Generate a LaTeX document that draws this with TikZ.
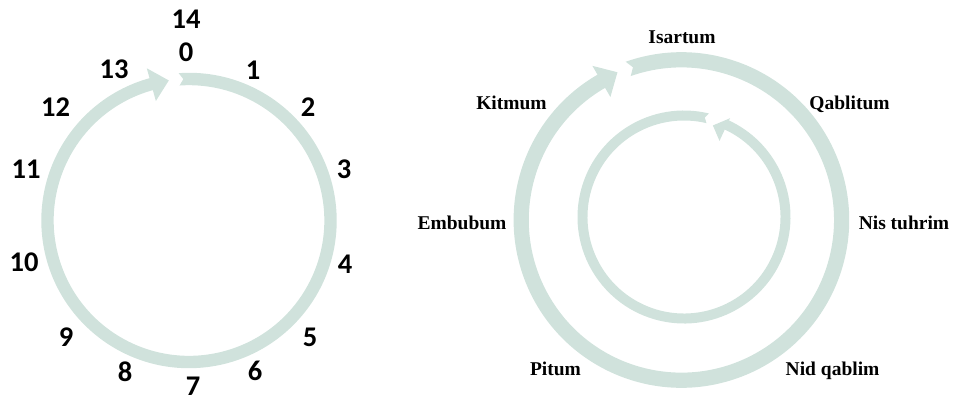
\documentclass[tikz,border=0pt]{standalone}
\usepackage{fontspec}
\newfontfamily\numfont{Carlito}
\newfontfamily\labfont{Liberation Serif}
\definecolor{ringc}{RGB}{208,226,220}
\begin{document}
\begin{tikzpicture}[x=1pt,y=1pt,
  num/.style={font=\numfont\bfseries\fontsize{28.5}{30}\selectfont, inner sep=0pt, anchor=center},
  lab/.style={font=\labfont\bfseries\fontsize{19.5}{21}\selectfont, inner sep=0pt, anchor=base},
  ring/.style={fill=ringc, draw=none}]
\useasboundingbox (0,0) rectangle (953,-402);

% left ring (clockwise)
\begin{scope}[shift={(189,-220.5)}]
\fill[ring] (94:147.7) arc[start angle=94, end angle=-254.5, radius=147.7]
  -- (-254.5:158) -- (-261.8:141.5) -- (-254.5:124) -- (-254.5:135.3)
  arc[start angle=-254.5, end angle=94, radius=135.3] -- (92.3:141.5) -- cycle;
\end{scope}

% right outer ring (clockwise)
\begin{scope}[shift={(681.4,-220)}]
\fill[ring] (109.4:167.8) arc[start angle=109.4, end angle=-240, radius=167.8]
  -- (-240:178) -- (-246.6:161) -- (-240:142) -- (-240:152.6)
  arc[start angle=-240, end angle=109.4, radius=152.6] -- (107.6:160.2) -- cycle;
\end{scope}

% right inner ring (counterclockwise)
\begin{scope}[shift={(684,-217)}]
\fill[ring] (76.5:106.5) arc[start angle=76.5, end angle=425, radius=106.5]
  -- (425:109) -- (432.5:96) -- (425:84) -- (425:96.5)
  arc[start angle=425, end angle=76.5, radius=96.5] -- (78.2:101.5) -- cycle;
\end{scope}

% numbers
\node[num] (n14) at (186,-19) {14};
\node[num] (n0) at (186,-52) {0};
\node[num] (n1) at (253,-70) {1};
\node[num] (n2) at (308,-107.5) {2};
\node[num] (n3) at (344,-169) {3};
\node[num] (n4) at (345,-264) {4};
\node[num] (n5) at (310,-337) {5};
\node[num] (n6) at (255,-371) {6};
\node[num] (n7) at (193,-386) {7};
\node[num] (n8) at (125,-372) {8};
\node[num] (n9) at (66,-337) {9};
\node[num] (n10) at (24,-262) {10};
\node[num] (n11) at (26,-169) {11};
\node[num] (n12) at (55.5,-107.5) {12};
\node[num] (n13) at (114,-69) {13};

% labels
\node[lab] (isartum) at (682,-43.3) {Isartum};
\node[lab] (qablitum) at (849.5,-109.5) {Qablitum};
\node[lab] (nis) at (904,-229.5) {Nis tuhrim};
\node[lab] (embubum) at (462,-229.3) {Embubum};
\node[lab] (kitmum) at (511.5,-109.3) {Kitmum};
\node[lab] (pitum) at (555.5,-375) {Pitum};
\node[lab] (nid) at (832.6,-375.5) {Nid qablim};
\end{tikzpicture}
\end{document}
